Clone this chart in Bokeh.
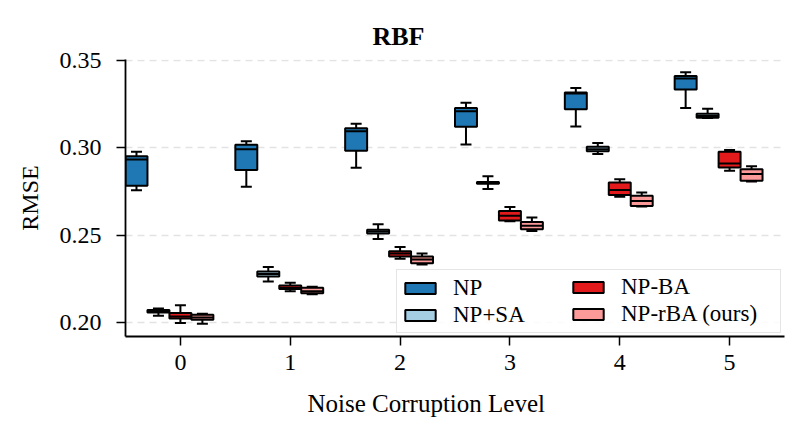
from bokeh.plotting import figure
from bokeh.models import (ColumnDataSource, Range1d, FixedTicker, PrintfTickFormatter,
                          Legend, LegendItem, Title)
from bokeh.transform import dodge
from bokeh.embed import file_html
from bokeh.resources import INLINE

levels = [0, 1, 2, 3, 4, 5]
tick_labels = ["0", "1", "2", "3", "4", "5"]
series_names = ["NP", "NP+SA", "NP-BA", "NP-rBA (ours)"]
series_colors = ["#1f78b4", "#a6cee3", "#e31a1c", "#fb9a99"]

np_low = [0.2758, 0.2777, 0.2886, 0.3019, 0.3122, 0.3228]
np_q1 = [0.2783, 0.2873, 0.2983, 0.3120, 0.3220, 0.3333]
np_med = [0.2933, 0.2992, 0.3095, 0.3209, 0.3310, 0.3397]
np_q3 = [0.2952, 0.3017, 0.3112, 0.3228, 0.3316, 0.3411]
np_high = [0.2977, 0.3038, 0.3137, 0.3257, 0.3342, 0.3432]

sa_low = [0.2040, 0.2236, 0.2479, 0.2764, 0.2964, 0.3170]
sa_q1 = [0.2058, 0.2264, 0.2510, 0.2795, 0.2981, 0.3172]
sa_med = [0.2066, 0.2278, 0.2521, 0.2800, 0.2992, 0.3182]
sa_q3 = [0.2073, 0.2293, 0.2532, 0.2805, 0.3006, 0.3195]
sa_high = [0.2081, 0.2318, 0.2563, 0.2838, 0.3028, 0.3224]

ba_low = [0.1998, 0.2180, 0.2365, 0.2580, 0.2720, 0.2869]
ba_q1 = [0.2024, 0.2192, 0.2378, 0.2584, 0.2730, 0.2888]
ba_med = [0.2036, 0.2198, 0.2395, 0.2612, 0.2759, 0.2911]
ba_q3 = [0.2055, 0.2213, 0.2409, 0.2639, 0.2802, 0.2977]
ba_high = [0.2099, 0.2228, 0.2433, 0.2662, 0.2820, 0.2987]

rba_low = [0.1994, 0.2162, 0.2333, 0.2525, 0.2665, 0.2808]
rba_q1 = [0.2017, 0.2168, 0.2340, 0.2534, 0.2667, 0.2812]
rba_med = [0.2030, 0.2180, 0.2362, 0.2555, 0.2696, 0.2850]
rba_q3 = [0.2046, 0.2200, 0.2378, 0.2576, 0.2726, 0.2877]
rba_high = [0.2051, 0.2206, 0.2395, 0.2601, 0.2745, 0.2895]

all_stats = [
    (np_low, np_q1, np_med, np_q3, np_high),
    (sa_low, sa_q1, sa_med, sa_q3, sa_high),
    (ba_low, ba_q1, ba_med, ba_q3, ba_high),
    (rba_low, rba_q1, rba_med, rba_q3, rba_high),
]
offsets = [-0.4, -0.2, 0.0, 0.2]
box_w = 0.2
cap_w = 0.1

FONT = "Liberation Serif"

p = figure(width=800, height=434, output_backend="svg", toolbar_location=None,
           x_range=Range1d(-0.5, 5.5), y_range=Range1d(0.1921, 0.3505),
           min_border_left=125, min_border_right=16, min_border_top=59, min_border_bottom=98)
p.outline_line_color = None
p.background_fill_color = "white"
p.border_fill_color = "white"

lw = 2.0
legend_items = []
for name, color, off, (lo, q1, md, q3, hi) in zip(series_names, series_colors, offsets, all_stats):
    src = ColumnDataSource(dict(lvl=levels, low=lo, q1=q1, med=md, q3=q3, high=hi))
    p.segment(x0=dodge("lvl", off), y0="q3", x1=dodge("lvl", off), y1="high", source=src,
              line_color="black", line_width=lw)
    p.segment(x0=dodge("lvl", off), y0="q1", x1=dodge("lvl", off), y1="low", source=src,
              line_color="black", line_width=lw)
    p.segment(x0=dodge("lvl", off - cap_w / 2), y0="high", x1=dodge("lvl", off + cap_w / 2), y1="high",
              source=src, line_color="black", line_width=lw)
    p.segment(x0=dodge("lvl", off - cap_w / 2), y0="low", x1=dodge("lvl", off + cap_w / 2), y1="low",
              source=src, line_color="black", line_width=lw)
    r = p.vbar(x=dodge("lvl", off), width=box_w, bottom="q1", top="q3", source=src,
               fill_color=color, line_color="black", line_width=lw)
    p.segment(x0=dodge("lvl", off - box_w / 2), y0="med", x1=dodge("lvl", off + box_w / 2), y1="med",
              source=src, line_color="black", line_width=lw)
    legend_items.append(LegendItem(label=name, renderers=[r]))

common = dict(location="bottom_right", orientation="vertical",
              glyph_width=38, glyph_height=14, label_standoff=14, spacing=0, padding=4,
              label_text_font=FONT, label_text_font_size="23px",
              label_text_color="black", label_height=27)
# first column carries the frame of the legend box
legend1 = Legend(items=legend_items[:2], label_width=323, margin=3,
                 border_line_color="#cccccc", border_line_width=1.2,
                 background_fill_color="white", background_fill_alpha=0.85, **common)
legend2 = Legend(items=legend_items[2:], label_width=154, margin=9,
                 border_line_color=None, background_fill_alpha=0.0, **common)
p.add_layout(legend1)
p.add_layout(legend2)

# axes
p.xaxis.ticker = FixedTicker(ticks=levels)
p.xaxis.major_label_overrides = {lv: t for lv, t in zip(levels, tick_labels)}
p.yaxis.ticker = FixedTicker(ticks=[0.20, 0.25, 0.30, 0.35])
p.yaxis.formatter = PrintfTickFormatter(format="%.2f")
for ax in (p.xaxis, p.yaxis):
    ax.axis_line_color = "black"
    ax.axis_line_width = 1.8
    ax.major_tick_line_color = "black"
    ax.major_tick_line_width = 1.5
    ax.major_tick_out = 9
    ax.major_tick_in = 0
    ax.minor_tick_line_color = None
    ax.major_label_text_font = FONT
    ax.major_label_text_font_size = "24px"
    ax.major_label_text_color = "black"
p.xaxis.major_label_standoff = 9
p.yaxis.major_label_standoff = 15
p.yaxis.axis_label = "RMSE"
p.yaxis.axis_label_text_font = FONT
p.yaxis.axis_label_text_font_size = "24px"
p.yaxis.axis_label_text_font_style = "normal"
p.yaxis.axis_label_text_color = "black"
p.yaxis.axis_label_standoff = 14

p.xgrid.visible = False
p.ygrid.grid_line_color = "#e3e3e3"
p.ygrid.grid_line_dash = "7 5"
p.ygrid.grid_line_width = 1.5

p.title.text = "RBF"
p.title.text_font = FONT
p.title.text_font_size = "26px"
p.title.text_font_style = "bold"
p.title.text_color = "black"
p.title.align = "left"
p.title.offset = 247
p.title.standoff = 17

xlab = Title(text="Noise Corruption Level", align="left", offset=182,
             text_font=FONT, text_font_size="25px", text_font_style="normal",
             text_color="black", standoff=30)
p.add_layout(xlab, "below")

open("out.html", "w").write(file_html(p, INLINE))
